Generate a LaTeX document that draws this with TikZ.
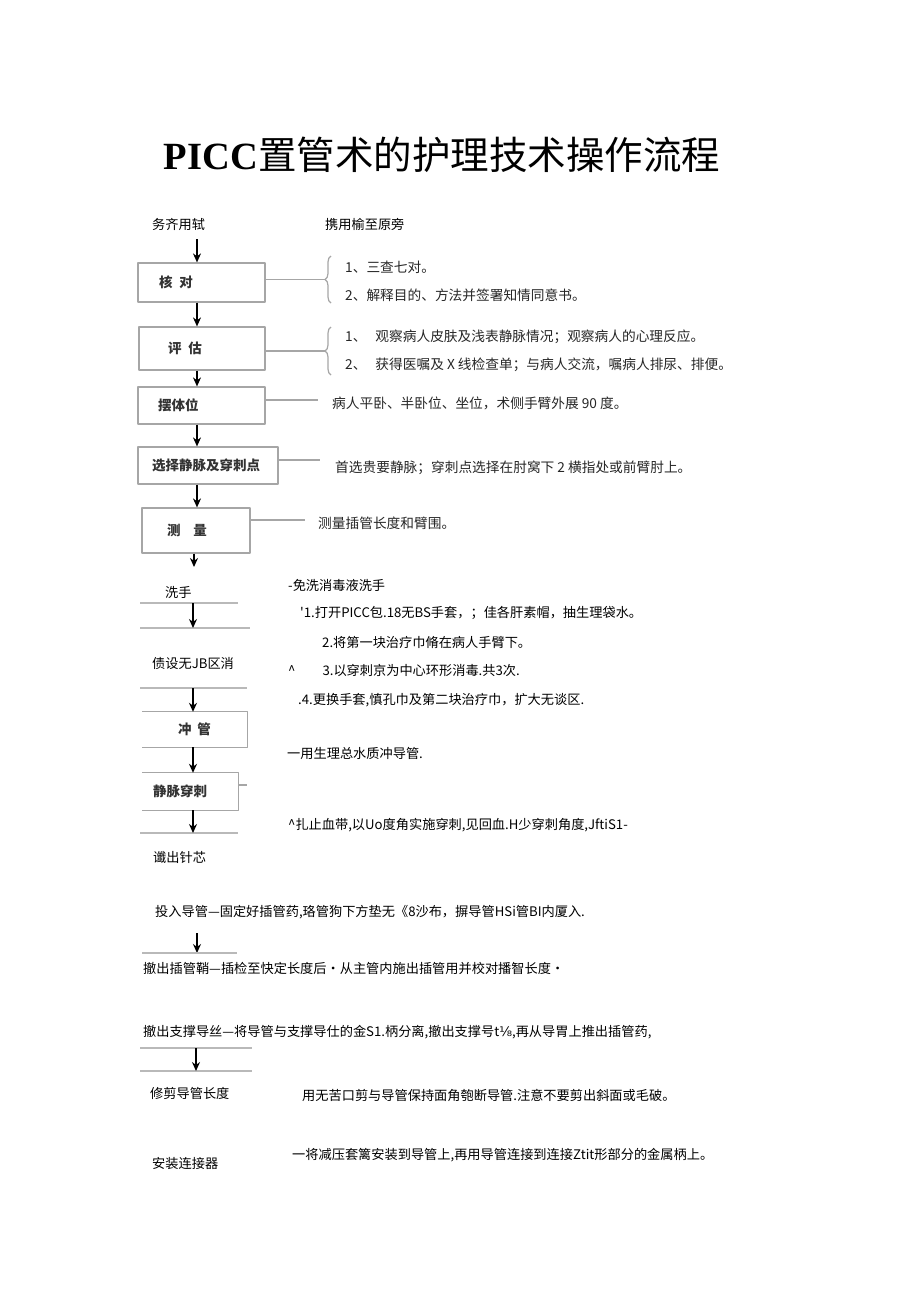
\documentclass[tikz,border=0pt]{standalone}
\usepackage{fontspec}
\usetikzlibrary{positioning,arrows.meta,decorations.pathreplacing}
\newfontfamily\cjk{Noto Sans CJK SC}
\newfontfamily\serifl{Liberation Serif}
\newfontfamily\symfont{DejaVu Sans}
\newcommand\boxfont{\cjk\bfseries\fontsize{13.5}{15}\selectfont}
\newcommand\notefont{\cjk\fontsize{13.7}{15}\selectfont}
\newcommand\plainfont{\cjk\fontsize{13.2}{15}\selectfont}
\begin{document}
\begin{tikzpicture}[x=1pt, y=-1pt, line join=round, >={Stealth[length=9pt,width=8pt]},
    stepbox/.style={draw=gray!70, line width=1.2pt, align=left, font=\boxfont, text=black!80, inner ysep=0pt},
    openbox/.style={align=left, font=\boxfont, text=black!80, inner ysep=0pt},
    note/.style={anchor=west, inner sep=0pt, font=\notefont, text=black!85},
    plain/.style={anchor=west, inner sep=0pt, font=\plainfont},
    flow/.style={->, line width=1.4pt},
    link/.style={gray!70, line width=1.2pt},
    rule/.style={gray!55, line width=1.2pt}]
\useasboundingbox (0,0) rectangle (920,1301);
\coordinate (spine) at (197,0); \coordinate (spinelow) at (193,0);
% title
\node (title) at (442,155) {\fontsize{38.5}{40}\selectfont{\serifl\bfseries PICC}\cjk 置管术的护理技术操作流程};
% top part: boxed steps
\node[plain] (wuqi) at (152,224) {务齐用轼};
\node[plain] (xieyong) at (325,224) {携用榆至原旁};
\node[stepbox, text width=85pt, inner xsep=21pt, minimum height=39pt] (hedui) at (201.5,282.5) {核\hspace{7pt}对};
\node[stepbox, text width=68pt, inner xsep=29pt, minimum height=43pt] (pinggu) at (202,348.5) {评\hspace{7pt}估};
\node[stepbox, text width=87pt, inner xsep=20pt, minimum height=37pt] (baitiwei) at (201.5,405.5) {摆体位};
\node[stepbox, text width=112pt, inner xsep=14pt, minimum height=37pt] (xuanze) at (208,465.5) {选择静脉及穿刺点};
\node[stepbox, text width=58pt, inner xsep=25pt, minimum height=45pt] (celiang) at (196,530.5) {测\hspace{13pt}量};
\draw[flow] ([yshift=-9pt]wuqi.south -| spine) -- (hedui.north -| spine);
\draw[flow] (hedui.south -| spine) -- (pinggu.north -| spine);
\draw[flow] (pinggu.south -| spine) -- (baitiwei.north -| spine);
\draw[flow] (baitiwei.south -| spine) -- (xuanze.north -| spine);
\draw[flow] (xuanze.south -| spine) -- (celiang.north -| spine);
\coordinate (washtop) at (194,567);
\draw[flow] (celiang.south -| washtop) -- (washtop);
% notes of the top part
\coordinate (b1) at (325,279.5); \coordinate (b2) at (325,351);
\draw[link, decorate, decoration={brace, amplitude=6pt}] (331,303) -- (331,256);
\draw[link, decorate, decoration={brace, amplitude=6pt}] (331,375) -- (331,327);
\draw[link] (hedui.east |- b1) -- (b1);
\draw[link] (pinggu.east |- b2) -- (b2);
\node[note] (n11) at (345,267) {1、三查七对。};
\node[note] (n12) at (345,295) {2、解释目的、方法并签署知情同意书。};
\node[note] (n21) at (345,337) {1、\hspace{9pt}观察病人皮肤及浅表静脉情况；观察病人的心理反应。};
\node[note] (n22) at (345,365) {2、\hspace{9pt}获得医嘱及 X 线检查单；与病人交流，嘱病人排尿、排便。};
\node[note] (n3) at (332,403) {病人平卧、半卧位、坐位，术侧手臂外展 90 度。};
\node[note] (n4) at (335,468) {首选贵要静脉；穿刺点选择在肘窝下 2 横指处或前臂肘上。};
\node[note] (n5) at (318,523) {测量插管长度和臂围。};
\coordinate (l3) at (318,400); \coordinate (l4) at (320,460); \coordinate (l5) at (305,520);
\draw[link] (baitiwei.east |- l3) -- (l3);
\draw[link] (xuanze.east |- l4) -- (l4);
\draw[link] (celiang.east |- l5) -- (l5);
% lower part
\node[plain] (xishou) at (165,592) {洗手};
\draw[rule] (140,603) -- (238,603);
\draw[rule] (140,628) -- (250,628);
\coordinate (r1) at (193,603); \coordinate (r2) at (193,628);
\draw[flow] (r1) -- (r2);
\node[plain] (puwujun) at (152,663) {债设无JB区消};
\draw[rule] (140,688) -- (247,688);
\coordinate (r3) at (193,688);
\node[openbox, minimum width=105pt, minimum height=35pt] (chongguan) at (194.5,729.5) {冲\hspace{6pt}管};
\draw[link] (chongguan.north west) -- (chongguan.north east) -- (chongguan.south east) -- (chongguan.south west);
\node[openbox, text width=74pt, inner xsep=11pt, minimum height=37pt] (chuanci) at (190,791.5) {静脉穿刺};
\draw[link] (chuanci.north west) -- (chuanci.north east) -- (chuanci.south east) -- (chuanci.south west);
\draw[link] (chuanci.east |- 0,785) -- (247,785);
\draw[flow] (r3) -- (chongguan.north -| r3);
\draw[flow] (chongguan.south -| r3) -- (chuanci.north -| r3);
\draw[rule] (140,833) -- (238,833);
\coordinate (r4) at (193,833);
\draw[flow] (chuanci.south -| r4) -- (r4);
\node[plain] (chezhen) at (153,857) {谶出针芯};
\node[plain] (m1) at (288,585) {-免洗消毒液洗手};
\node[plain] (m2) at (300,613) {'1.打开PICC包.18无BS手套，；佳各肝素帽，抽生理袋水。};
\node[plain] (m3) at (322,642) {2.将第一块治疗巾脩在病人手臂下。};
\node[plain] (m4) at (288,670) {\textasciicircum\hspace{27pt}3.以穿刺京为中心环形消毒.共3次.};
\node[plain] (m5) at (298,700) {.4.更换手套,慎孔巾及第二块治疗巾，扩大无谈区.};
\node[plain] (m6) at (287,753) {一用生理总水质冲导管.};
\node[plain] (m7) at (288,825) {\textasciicircum 扎止血带,以Uo度角实施穿刺,见回血.H少穿刺角度,JftiS1-};
\node[plain] (m8) at (155,912) {投入导管—固定好插管药,珞管狗下方垫无《8沙布，摒导管HSi管BI内厦入.};
\coordinate (r5) at (197,933); \coordinate (r6) at (197,953);
\draw[flow] (r5) -- (r6);
\draw[rule] (142,953) -- (237,953);
\node[plain] (m9) at (143,968) {撤出插管鞘—插检至快定长度后•从主管内施出插管用并校对播智长度•};
\node[plain] (m10) at (143,1032) {撤出支撑导丝—将导管与支撑导仕的金S1.柄分离,撤出支撑号t{\symfont ⅛},再从导胃上推出插管药,};
\draw[rule] (140,1048) -- (252,1048);
\draw[rule] (140,1071) -- (252,1071);
\coordinate (r7) at (196,1048); \coordinate (r8) at (196,1071);
\draw[flow] (r7) -- (r8);
\node[plain] (xiujian) at (150,1093) {修剪导管长度};
\node[plain] (m11) at (302,1095) {用无苦口剪与导管保持面角匏断导管.注意不要剪出斜面或毛破。};
\node[plain] (anzhuang) at (152,1163) {安装连接器};
\node[plain] (m12) at (292,1155) {一将减压套篱安装到导管上,再用导管连接到连接Ztit形部分的金属柄上。};
\end{tikzpicture}
\end{document}
